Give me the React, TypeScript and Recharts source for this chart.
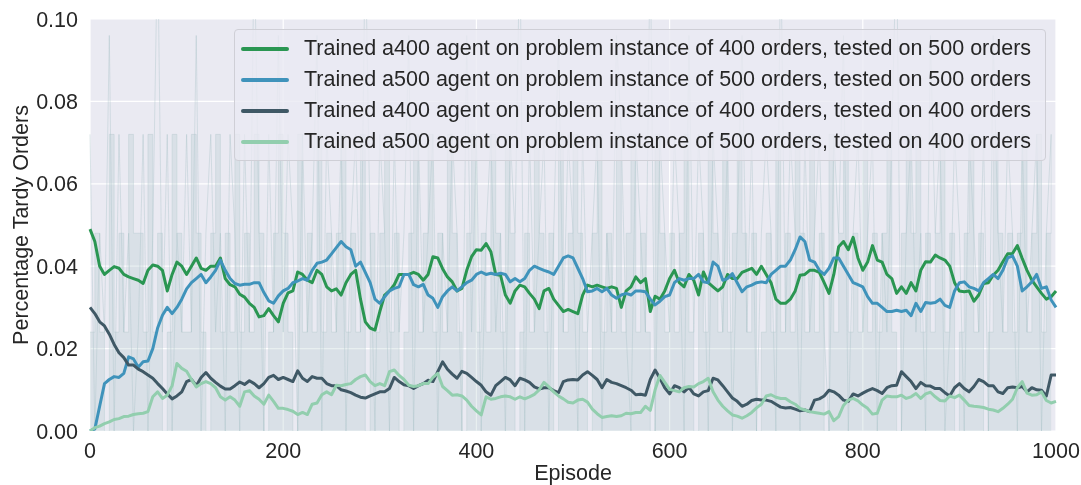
import { ComposedChart, Line, Area, XAxis, YAxis, CartesianGrid } from "recharts";

// smoothed curves, one value every 5 episodes (0..1000), 20 per row
const a400on500 = [
  0.049, 0.046, 0.04, 0.038, 0.039, 0.0399, 0.0395, 0.038, 0.0374, 0.037, 0.0366, 0.0358, 0.039, 0.0403, 0.04, 0.039, 0.034, 0.038, 0.041, 0.04,
  0.038, 0.04, 0.042, 0.0395, 0.039, 0.04, 0.04, 0.042, 0.037, 0.0355, 0.035, 0.0332, 0.0325, 0.031, 0.03, 0.0277, 0.028, 0.0297, 0.028, 0.0265,
  0.031, 0.0335, 0.034, 0.0386, 0.038, 0.0366, 0.036, 0.039, 0.038, 0.035, 0.034, 0.0345, 0.033, 0.036, 0.038, 0.039, 0.032, 0.0265, 0.025, 0.0245,
  0.029, 0.033, 0.034, 0.0355, 0.038, 0.038, 0.038, 0.0385, 0.038, 0.0366, 0.038, 0.0423, 0.042, 0.0394, 0.0374, 0.0362, 0.034, 0.0346, 0.039, 0.0423,
  0.044, 0.0439, 0.0455, 0.0435, 0.038, 0.0378, 0.033, 0.031, 0.034, 0.0354, 0.035, 0.0334, 0.032, 0.0297, 0.034, 0.0346, 0.032, 0.0305, 0.029, 0.0295,
  0.029, 0.0285, 0.033, 0.0354, 0.035, 0.0354, 0.035, 0.0346, 0.035, 0.0346, 0.03, 0.034, 0.035, 0.0374, 0.036, 0.037, 0.029, 0.0327, 0.032, 0.034,
  0.037, 0.039, 0.036, 0.035, 0.038, 0.0366, 0.033, 0.0386, 0.036, 0.035, 0.034, 0.035, 0.038, 0.037, 0.037, 0.0385, 0.039, 0.0395, 0.038, 0.04,
  0.038, 0.036, 0.032, 0.031, 0.031, 0.032, 0.034, 0.0378, 0.038, 0.039, 0.039, 0.0385, 0.036, 0.0334, 0.038, 0.0447, 0.046, 0.044, 0.047, 0.042,
  0.039, 0.041, 0.045, 0.0415, 0.041, 0.038, 0.037, 0.0334, 0.035, 0.0334, 0.036, 0.034, 0.039, 0.0411, 0.041, 0.0427, 0.042, 0.0415, 0.04, 0.036,
  0.034, 0.0338, 0.034, 0.0315, 0.033, 0.0358, 0.036, 0.0378, 0.039, 0.0411, 0.043, 0.0431, 0.045, 0.0419, 0.039, 0.0366, 0.035, 0.0334, 0.032, 0.0326,
  0.034,
];
const a500on500 = [
  0.0, 0.0005, 0.006, 0.0115, 0.0125, 0.0132, 0.013, 0.014, 0.018, 0.0175, 0.0155, 0.0168, 0.017, 0.02, 0.025, 0.0281, 0.03, 0.0285, 0.03, 0.032,
  0.0345, 0.036, 0.037, 0.038, 0.036, 0.0374, 0.039, 0.0415, 0.039, 0.037, 0.0358, 0.0354, 0.0356, 0.0356, 0.036, 0.036, 0.0336, 0.0316, 0.031, 0.0328,
  0.034, 0.0346, 0.036, 0.0364, 0.037, 0.0366, 0.039, 0.0407, 0.041, 0.0415, 0.043, 0.0445, 0.046, 0.0447, 0.044, 0.04, 0.041, 0.0385, 0.036, 0.032,
  0.031, 0.0326, 0.034, 0.0346, 0.035, 0.038, 0.038, 0.0355, 0.035, 0.0356, 0.033, 0.0322, 0.03, 0.0326, 0.034, 0.035, 0.034, 0.035, 0.036, 0.0366,
  0.038, 0.0386, 0.038, 0.0383, 0.038, 0.0383, 0.038, 0.0362, 0.037, 0.0362, 0.037, 0.039, 0.04, 0.0395, 0.039, 0.0386, 0.038, 0.04, 0.042, 0.0425,
  0.042, 0.0395, 0.037, 0.0338, 0.034, 0.0346, 0.0338, 0.0346, 0.033, 0.0322, 0.033, 0.0334, 0.033, 0.034, 0.034, 0.0338, 0.032, 0.0306, 0.0315, 0.0326,
  0.033, 0.036, 0.037, 0.0366, 0.037, 0.037, 0.038, 0.0362, 0.036, 0.041, 0.04, 0.0366, 0.037, 0.0382, 0.036, 0.0338, 0.035, 0.0354, 0.036, 0.0362,
  0.036, 0.038, 0.039, 0.04, 0.04, 0.0415, 0.044, 0.0471, 0.046, 0.0415, 0.041, 0.039, 0.038, 0.0395, 0.042, 0.042, 0.04, 0.038, 0.036, 0.0355,
  0.035, 0.0326, 0.031, 0.031, 0.03, 0.029, 0.029, 0.0293, 0.029, 0.0293, 0.028, 0.031, 0.029, 0.0312, 0.031, 0.0312, 0.032, 0.0305, 0.03, 0.034,
  0.036, 0.0362, 0.035, 0.0346, 0.034, 0.036, 0.037, 0.038, 0.037, 0.039, 0.042, 0.0425, 0.04, 0.034, 0.035, 0.0362, 0.038, 0.0346, 0.035, 0.0318,
  0.03,
];
const a400on400 = [
  0.03, 0.0285, 0.0265, 0.0255, 0.0235, 0.021, 0.019, 0.0178, 0.016, 0.016, 0.015, 0.0144, 0.0136, 0.0128, 0.0115, 0.0103, 0.009, 0.0078, 0.0085, 0.0095,
  0.012, 0.0125, 0.011, 0.013, 0.0142, 0.0128, 0.0118, 0.0109, 0.0102, 0.0102, 0.011, 0.0119, 0.0113, 0.0122, 0.0115, 0.0105, 0.0115, 0.013, 0.0135, 0.0125,
  0.013, 0.0125, 0.012, 0.0146, 0.0128, 0.012, 0.0132, 0.0128, 0.0128, 0.0115, 0.011, 0.011, 0.01, 0.0097, 0.0093, 0.0087, 0.0082, 0.008, 0.0085, 0.009,
  0.0095, 0.0095, 0.0103, 0.013, 0.012, 0.0112, 0.011, 0.0103, 0.011, 0.0115, 0.0123, 0.012, 0.0144, 0.0168, 0.015, 0.0138, 0.0128, 0.0145, 0.014, 0.013,
  0.012, 0.0111, 0.0095, 0.0087, 0.011, 0.012, 0.013, 0.0124, 0.011, 0.0128, 0.0124, 0.0118, 0.0107, 0.0102, 0.0105, 0.0105, 0.0098, 0.0093, 0.012, 0.0124,
  0.0125, 0.0124, 0.0136, 0.0144, 0.0135, 0.0125, 0.0105, 0.0125, 0.0118, 0.0115, 0.011, 0.0105, 0.0099, 0.0088, 0.0089, 0.0087, 0.0125, 0.0148, 0.0128, 0.0105,
  0.009, 0.011, 0.0105, 0.0095, 0.0106, 0.009, 0.0085, 0.0095, 0.0098, 0.0128, 0.0124, 0.011, 0.0095, 0.008, 0.0072, 0.006, 0.0065, 0.0074, 0.0077, 0.0075,
  0.0075, 0.0072, 0.0065, 0.0058, 0.0056, 0.0057, 0.0053, 0.0049, 0.0051, 0.0047, 0.0075, 0.0078, 0.0085, 0.0099, 0.0095, 0.0087, 0.0075, 0.0072, 0.009, 0.0085,
  0.0092, 0.0098, 0.0103, 0.0098, 0.0091, 0.0105, 0.011, 0.0111, 0.0144, 0.0132, 0.012, 0.0103, 0.0118, 0.011, 0.0109, 0.0103, 0.0103, 0.0093, 0.0085, 0.0105,
  0.0115, 0.0103, 0.0095, 0.0108, 0.0125, 0.012, 0.011, 0.011, 0.0095, 0.0091, 0.0105, 0.0107, 0.0105, 0.0108, 0.0095, 0.0105, 0.01, 0.0099, 0.0085, 0.0136,
  0.0136,
];
const a500on400 = [
  0.0, 0.0008, 0.0012, 0.0018, 0.0022, 0.0028, 0.003, 0.0035, 0.0036, 0.004, 0.0042, 0.0043, 0.0047, 0.0083, 0.0095, 0.0079, 0.0087, 0.011, 0.0164, 0.0152,
  0.0145, 0.0125, 0.0107, 0.0115, 0.012, 0.0115, 0.0105, 0.0083, 0.0075, 0.0083, 0.0075, 0.006, 0.0095, 0.0098, 0.0085, 0.0077, 0.0065, 0.0087, 0.0072, 0.0055,
  0.0055, 0.0052, 0.0048, 0.004, 0.0045, 0.004, 0.0065, 0.0068, 0.0088, 0.0095, 0.0088, 0.0111, 0.011, 0.0113, 0.0115, 0.0125, 0.0132, 0.0136, 0.012, 0.011,
  0.0115, 0.011, 0.0144, 0.0148, 0.0135, 0.0125, 0.0111, 0.0108, 0.011, 0.0115, 0.0115, 0.013, 0.014, 0.0108, 0.0098, 0.0087, 0.0088, 0.0085, 0.0075, 0.006,
  0.0049, 0.0039, 0.0083, 0.0077, 0.0079, 0.0083, 0.0085, 0.0083, 0.0077, 0.0083, 0.0078, 0.0083, 0.0089, 0.01, 0.0118, 0.0107, 0.0095, 0.0085, 0.0078, 0.007,
  0.0068, 0.0075, 0.0077, 0.007, 0.0053, 0.0042, 0.0033, 0.0035, 0.0037, 0.0035, 0.0037, 0.0043, 0.0042, 0.0045, 0.0045, 0.006, 0.005, 0.01, 0.0135, 0.0118,
  0.0101, 0.0098, 0.0095, 0.0105, 0.0108, 0.0107, 0.0115, 0.012, 0.0128, 0.0095, 0.0075, 0.006, 0.0049, 0.0039, 0.0036, 0.0031, 0.0037, 0.0045, 0.0056, 0.0065,
  0.0085, 0.0088, 0.0082, 0.0079, 0.0079, 0.0071, 0.0065, 0.0055, 0.0051, 0.0047, 0.0045, 0.0043, 0.0041, 0.0047, 0.0025, 0.0035, 0.0062, 0.0075, 0.0079, 0.0073,
  0.0063, 0.0055, 0.0041, 0.0043, 0.0075, 0.0085, 0.0083, 0.0083, 0.0087, 0.0079, 0.0083, 0.0091, 0.0079, 0.009, 0.0094, 0.0083, 0.0074, 0.0073, 0.0085, 0.0081,
  0.0087, 0.0075, 0.0062, 0.006, 0.0059, 0.0057, 0.0053, 0.0051, 0.0047, 0.0055, 0.0065, 0.0077, 0.0105, 0.012, 0.0092, 0.0087, 0.0088, 0.0095, 0.0074, 0.0068,
  0.0072,
];

// raw per-episode values behind the curves, one every 5 episodes
const rawSpikes = [
  0.072, 0, 0.048, 0.024, 0.096, 0, 0.072, 0.024, 0.048, 0, 0.024, 0.072, 0, 0.048, 0.12, 0.024, 0.072, 0, 0.048, 0.024,
  0.072, 0.024, 0.096, 0, 0.048, 0.072, 0.024, 0.048, 0, 0.072, 0.048, 0, 0.072, 0.024, 0.12, 0.048, 0, 0.072, 0.024, 0.096,
  0.024, 0.072, 0.048, 0, 0.072, 0.024, 0.048, 0.096, 0, 0.072, 0.048, 0.024, 0.072, 0, 0.048, 0.072, 0.024, 0.12, 0.048, 0,
  0.072, 0.048, 0, 0.072, 0.024, 0.048, 0.096, 0, 0.072, 0.024, 0.048, 0.072, 0, 0.048, 0.024, 0.072, 0.048, 0, 0.096, 0.024,
  0.072, 0, 0.048, 0.072, 0.024, 0.048, 0, 0.072, 0.048, 0.12, 0, 0.072, 0.024, 0.048, 0.072, 0, 0.048, 0.096, 0.024, 0.072,
  0.048, 0, 0.072, 0.024, 0.048, 0.072, 0, 0.048, 0.024, 0.096, 0.072, 0.024, 0, 0.072, 0.048, 0.024, 0.12, 0, 0.072, 0.048,
  0.024, 0.072, 0.048, 0, 0.096, 0.024, 0.072, 0.048, 0, 0.072, 0.048, 0.024, 0.072, 0, 0.048, 0.096, 0.024, 0.072, 0, 0.048,
  0.072, 0.048, 0, 0.12, 0.024, 0.072, 0.048, 0, 0.072, 0.024, 0.048, 0.072, 0.024, 0, 0.072, 0.048, 0.096, 0, 0.048, 0.072,
  0.024, 0.048, 0.072, 0, 0.048, 0.024, 0.072, 0.12, 0, 0.048, 0.072, 0.024, 0.048, 0, 0.096, 0.048, 0.072, 0, 0.024, 0.072,
  0.048, 0, 0.072, 0.048, 0.024, 0.072, 0, 0.096, 0.048, 0.024, 0.072, 0.048, 0, 0.072, 0.024, 0.048, 0.072, 0, 0.048, 0.072,
];
const rawBand = [
  0.024, 0.048, 0.024, 0, 0.072, 0.024, 0.048, 0.024, 0.072, 0.048, 0.048, 0.024, 0.072, 0.024, 0.048, 0, 0.024, 0.072, 0.048, 0.024,
  0.024, 0.072, 0.048, 0.024, 0, 0.048, 0.072, 0.024, 0.048, 0.024, 0.072, 0.024, 0.048, 0.024, 0.072, 0.048, 0, 0.024, 0.048, 0.072,
  0.048, 0.024, 0, 0.072, 0.024, 0.048, 0.024, 0.072, 0.024, 0.048, 0.024, 0.048, 0.072, 0.024, 0.048, 0.024, 0.072, 0, 0.048, 0.024,
  0.048, 0.072, 0.024, 0.048, 0, 0.024, 0.048, 0.072, 0.024, 0.048, 0.072, 0.024, 0.048, 0.024, 0.072, 0.048, 0.024, 0, 0.048, 0.072,
  0.024, 0.048, 0.024, 0.072, 0.048, 0.024, 0.072, 0.048, 0, 0.024, 0.048, 0.024, 0.072, 0.048, 0.024, 0.048, 0, 0.072, 0.024, 0.048,
  0.072, 0.048, 0.024, 0, 0.048, 0.072, 0.024, 0.048, 0.024, 0.072, 0.024, 0.048, 0.072, 0.024, 0.048, 0.024, 0, 0.072, 0.048, 0.024,
  0.048, 0.024, 0.048, 0.072, 0.024, 0, 0.048, 0.024, 0.072, 0.048, 0.024, 0.072, 0.024, 0.048, 0.072, 0.048, 0.024, 0.048, 0, 0.024,
  0.048, 0.024, 0.072, 0.024, 0.048, 0.024, 0.072, 0.048, 0.024, 0.072, 0.024, 0.048, 0, 0.072, 0.024, 0.048, 0.072, 0.024, 0.048, 0.024,
  0.072, 0.024, 0.048, 0.024, 0.048, 0.072, 0.024, 0, 0.048, 0.072, 0.048, 0.072, 0.024, 0.048, 0.024, 0.048, 0.072, 0.024, 0.048, 0,
  0.024, 0.048, 0.072, 0.024, 0.048, 0, 0.024, 0.072, 0.048, 0.024, 0.048, 0.024, 0.048, 0.072, 0.024, 0.048, 0.072, 0.024, 0.048, 0.072,
];

const xTicks = [0, 200, 400, 600, 800, 1000];
const yTicks = [0, 0.02, 0.04, 0.06, 0.08, 0.1];

const series = [
  { key: "a400on500", values: a400on500, color: "#2a9652", label: "Trained a400 agent on problem instance of 400 orders, tested on 500 orders" },
  { key: "a500on500", values: a500on500, color: "#3f93bb", label: "Trained a500 agent on problem instance of 500 orders, tested on 500 orders" },
  { key: "a400on400", values: a400on400, color: "#3f5865", label: "Trained a400 agent on problem instance of 400 orders, tested on 400 orders" },
  { key: "a500on400", values: a500on400, color: "#92ceae", label: "Trained a500 agent on problem instance of 500 orders, tested on 400 orders" },
];

const data = a400on500.map((_, i) => {
  const row: Record<string, number> = { episode: i * 5 };
  series.forEach((s) => (row[s.key] = s.values[i]));
  return row;
});
const rawData = rawSpikes.map((v, i) => ({ episode: i * 5, spike: v, band: rawBand[i] }));

const FONT = '"Liberation Sans", Arial, sans-serif';
const TEXT = "#262626";
const FS = 21.5;

export default function App() {
  return (
    <div style={{ position: "fixed", left: 0, top: 0, width: 1081, height: 485, fontFamily: FONT }}>
      <ComposedChart
        width={1081}
        height={485}
        data={data}
        margin={{ top: 19, right: 25, bottom: 24, left: 0 }}
      >
        <CartesianGrid stroke="#ffffff" strokeWidth={1.2} fill="#eaeaf2" />
        <XAxis
          dataKey="episode"
          type="number"
          domain={[0, 1000]}
          ticks={xTicks}
          axisLine={false}
          tickLine={false}
          tickMargin={6}
          height={30}
          tick={{ fill: TEXT, fontSize: FS, fontFamily: FONT }}
          label={{
            content: () => (
              <text x={573} y={480} textAnchor="middle" fill={TEXT} fontSize={FS} fontFamily={FONT}>
                Episode
              </text>
            ),
          }}
        />
        <YAxis
          type="number"
          domain={[0, 0.1]}
          ticks={yTicks}
          allowDataOverflow
          width={90}
          axisLine={false}
          tickLine={false}
          tickMargin={6}
          tickFormatter={(v: number) => v.toFixed(2)}
          tick={{ fill: TEXT, fontSize: FS, fontFamily: FONT }}
          label={{
            content: () => (
              <text
                x={28}
                y={225}
                transform="rotate(-90, 28, 225)"
                textAnchor="middle"
                fill={TEXT}
                fontSize={FS}
                fontFamily={FONT}
              >
                Percentage Tardy Orders
              </text>
            ),
          }}
        />
        <Area
          data={rawData}
          dataKey="band"
          type="stepAfter"
          stroke="#a9c2c6"
          strokeOpacity={0.3}
          strokeWidth={1}
          fill="#b3cace"
          fillOpacity={0.3}
          isAnimationActive={false}
        />
        <Line
          data={rawData}
          dataKey="spike"
          stroke="#a9c4c8"
          strokeOpacity={0.4}
          strokeWidth={1}
          dot={false}
          isAnimationActive={false}
        />
        {series.map((s) => (
          <Line
            key={s.key}
            dataKey={s.key}
            stroke={s.color}
            strokeWidth={3}
            strokeLinejoin="round"
            dot={false}
            type="linear"
            isAnimationActive={false}
          />
        ))}
      </ComposedChart>
      <div
        style={{
          position: "absolute",
          left: 234,
          top: 29,
          width: 812,
          height: 132,
          boxSizing: "border-box",
          border: "1px solid #cfcfd6",
          borderRadius: 4,
          background: "rgba(234,234,242,0.8)",
          padding: "3px 0 0 6px",
        }}
      >
        {series.map((s) => (
          <div key={s.key} style={{ display: "flex", alignItems: "center", height: 31, color: TEXT, fontSize: FS, whiteSpace: "nowrap" }}>
            <span style={{ display: "inline-block", width: 48, height: 4, borderRadius: 2, background: s.color, marginRight: 15 }} />
            {s.label}
          </div>
        ))}
      </div>
    </div>
  );
}
